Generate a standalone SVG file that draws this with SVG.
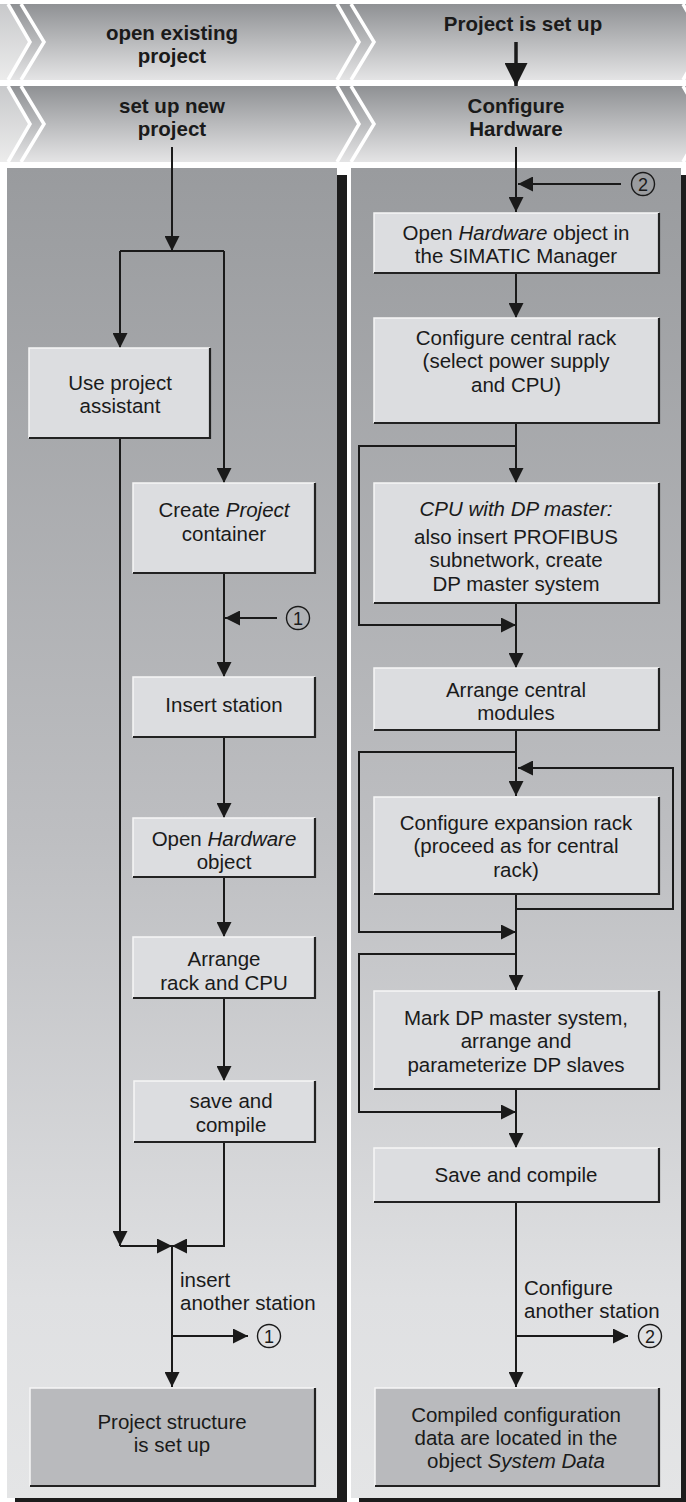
<svg xmlns="http://www.w3.org/2000/svg" width="686" height="1502" viewBox="0 0 686 1502">
<defs>
<linearGradient id="band" x1="0" y1="0" x2="0" y2="1">
<stop offset="0" stop-color="#8f9194"/>
<stop offset="1" stop-color="#e4e4e5"/>
</linearGradient>
<linearGradient id="sliver" x1="0" y1="0" x2="0" y2="1">
<stop offset="0" stop-color="#c8c9cb"/>
<stop offset="1" stop-color="#ececec"/>
</linearGradient>
<linearGradient id="panel" x1="0" y1="168" x2="0" y2="1498" gradientUnits="userSpaceOnUse">
<stop offset="0" stop-color="#999b9e"/>
<stop offset="0.5" stop-color="#bdbec1"/>
<stop offset="0.85" stop-color="#dfe0e2"/>
<stop offset="1" stop-color="#e4e5e6"/>
</linearGradient>
<marker id="ah" viewBox="0 0 15 15" refX="15" refY="7.5" markerWidth="15" markerHeight="15" markerUnits="userSpaceOnUse" orient="auto">
<path d="M0,0 L15,7.5 L0,15 z" fill="#1a1a1a"/>
</marker>
<marker id="big" viewBox="0 0 23 23" refX="23" refY="11.5" markerWidth="23" markerHeight="23" markerUnits="userSpaceOnUse" orient="auto">
<path d="M0,0 L23,11.5 L0,23 z" fill="#1a1a1a"/>
</marker>
</defs>
<style>
.hd{font-family:"Liberation Sans",Arial,sans-serif;font-weight:bold;font-size:20.5px;fill:#1a1a1a;text-anchor:middle}
.t{font-family:"Liberation Sans",Arial,sans-serif;font-size:20.5px;fill:#1a1a1a;text-anchor:middle}
.l{font-family:"Liberation Sans",Arial,sans-serif;font-size:20.5px;fill:#1a1a1a}
.n{font-family:"Liberation Sans",Arial,sans-serif;font-size:18px;fill:#1a1a1a;text-anchor:middle}
.ring{fill:none;stroke:#1a1a1a;stroke-width:1.4}
.box{fill:#dcdde0}
.fin{fill:#b9babd}
.hi{fill:none;stroke:#f6f6f6;stroke-width:1.5}
.sh{fill:none;stroke:#222;stroke-width:2.2}
.chev{fill:none;stroke:#fff;stroke-width:3.5}
.c{fill:none;stroke:#1a1a1a;stroke-width:2}
.ca{fill:none;stroke:#1a1a1a;stroke-width:2;marker-end:url(#ah)}
</style>
<rect x="0" y="0" width="686" height="1502" fill="#fff"/>

<g id="header">
<rect x="0" y="4" width="686" height="76" fill="url(#band)"/>
<rect x="0" y="86" width="686" height="76" fill="url(#band)"/>
<polygon points="0,4 8,4 30,42 8,80 0,80" fill="url(#sliver)"/>
<polygon points="0,86 8,86 30,124 8,162 0,162" fill="url(#sliver)"/>
<polyline class="chev" points="8,4 30,42 8,80"/>
<polyline class="chev" points="21,4 44,42 21,80"/>
<polyline class="chev" points="8,86 30,124 8,162"/>
<polyline class="chev" points="21,86 44,124 21,162"/>
<polyline class="chev" points="337,4 359,42 337,80"/>
<polyline class="chev" points="351,4 374,42 351,80"/>
<polyline class="chev" points="337,86 359,124 337,162"/>
<polyline class="chev" points="351,86 374,124 351,162"/>
<polyline class="chev" points="683,4 705,42 683,80"/>
<polyline class="chev" points="683,86 705,124 683,162"/>
</g>

<g id="h-open">
<text class="hd" x="172" y="40">open existing</text>
<text class="hd" x="172" y="63">project</text>
</g>
<g id="h-setup">
<text class="hd" x="172" y="113">set up new</text>
<text class="hd" x="172" y="136">project</text>
</g>
<g id="h-isset">
<text class="hd" x="523" y="31">Project is set up</text>
</g>
<g id="h-config">
<text class="hd" x="516" y="113">Configure</text>
<text class="hd" x="516" y="136">Hardware</text>
</g>

<g id="panels">
<rect x="337" y="175" width="10" height="1327" fill="#1c1c1c"/>
<rect x="15" y="1498" width="332" height="4" fill="#1c1c1c"/>
<rect x="7" y="168" width="330" height="1330" fill="url(#panel)"/>
<rect x="681" y="175" width="5" height="1327" fill="#1c1c1c"/>
<rect x="359" y="1498" width="327" height="4" fill="#1c1c1c"/>
<rect x="351" y="168" width="330" height="1330" fill="url(#panel)"/>
</g>

<g id="connectors">
<line class="c" x1="516" y1="42" x2="516" y2="86" style="stroke-width:3.5;marker-end:url(#big)"/>
<polyline class="ca" points="172,147 172,251"/>
<polyline class="c" points="120,251 224,251"/>
<polyline class="ca" points="120,251 120,348"/>
<polyline class="ca" points="224,251 224,483"/>
<polyline class="ca" points="224,573 224,677"/>
<polyline class="ca" points="277,618 225,618"/>
<polyline class="ca" points="224,737 224,818"/>
<polyline class="ca" points="224,877 224,937"/>
<polyline class="ca" points="224,998 224,1081"/>
<polyline class="ca" points="120,438 120,1246"/>
<polyline class="ca" points="120,1246 172,1246"/>
<polyline class="ca" points="224,1142 224,1246 172,1246"/>
<polyline class="ca" points="172,1246 172,1387"/>
<polyline class="ca" points="172,1336 248,1336"/>

<polyline class="ca" points="516,147 516,212"/>
<polyline class="ca" points="621,184 518,184"/>
<polyline class="ca" points="516,273 516,318"/>
<polyline class="ca" points="516,423 516,483"/>
<polyline class="ca" points="516,446 359,446 359,625 516,625"/>
<polyline class="ca" points="516,603 516,668"/>
<polyline class="ca" points="516,730 516,796"/>
<polyline class="ca" points="516,752 359,752 359,932 516,932"/>
<polyline class="ca" points="516,894 516,909 673,909 673,768 518,768"/>
<polyline class="ca" points="516,894 516,990"/>
<polyline class="ca" points="516,954 359,954 359,1112 516,1112"/>
<polyline class="ca" points="516,1089 516,1148"/>
<polyline class="ca" points="516,1202 516,1387"/>
<polyline class="ca" points="516,1336 628,1336"/>
</g>

<g id="ref1a"><circle class="ring" cx="298" cy="618" r="11.5"/><text class="n" x="298" y="624.5">1</text></g>
<g id="ref1b"><circle class="ring" cx="269" cy="1336" r="11.5"/><text class="n" x="269" y="1342.5">1</text></g>
<g id="ref2a"><circle class="ring" cx="643" cy="184" r="11.5"/><text class="n" x="643" y="190.5">2</text></g>
<g id="ref2b"><circle class="ring" cx="650" cy="1336" r="11.5"/><text class="n" x="650" y="1342.5">2</text></g>

<g id="lbl-insert">
<text class="l" x="180" y="1287">insert</text>
<text class="l" x="180" y="1310">another station</text>
</g>
<g id="lbl-configure">
<text class="l" x="524" y="1295">Configure</text>
<text class="l" x="524" y="1318">another station</text>
</g>

<g id="n-assistant">
<rect class="box" x="29" y="348" width="181" height="90"/>
<path class="hi" d="M29,438 L29,348 L210,348"/>
<path class="sh" d="M29,438 L210,438 L210,348"/>
<text class="t" x="120" y="390">Use project</text>
<text class="t" x="120" y="413">assistant</text>
</g>
<g id="n-create">
<rect class="box" x="133" y="483" width="182" height="90"/>
<path class="hi" d="M133,573 L133,483 L315,483"/>
<path class="sh" d="M133,573 L315,573 L315,483"/>
<text class="t" x="224" y="517">Create <tspan font-style="italic">Project</tspan></text>
<text class="t" x="224" y="541">container</text>
</g>
<g id="n-insert">
<rect class="box" x="133" y="677" width="182" height="60"/>
<path class="hi" d="M133,737 L133,677 L315,677"/>
<path class="sh" d="M133,737 L315,737 L315,677"/>
<text class="t" x="224" y="712">Insert station</text>
</g>
<g id="n-openhw">
<rect class="box" x="133" y="818" width="182" height="59"/>
<path class="hi" d="M133,877 L133,818 L315,818"/>
<path class="sh" d="M133,877 L315,877 L315,818"/>
<text class="t" x="224" y="846">Open <tspan font-style="italic">Hardware</tspan></text>
<text class="t" x="224" y="869">object</text>
</g>
<g id="n-arrange">
<rect class="box" x="133" y="937" width="182" height="61"/>
<path class="hi" d="M133,998 L133,937 L315,937"/>
<path class="sh" d="M133,998 L315,998 L315,937"/>
<text class="t" x="224" y="966">Arrange</text>
<text class="t" x="224" y="990">rack and CPU</text>
</g>
<g id="n-save">
<rect class="box" x="134" y="1081" width="181" height="61"/>
<path class="hi" d="M134,1142 L134,1081 L315,1081"/>
<path class="sh" d="M134,1142 L315,1142 L315,1081"/>
<text class="t" x="231" y="1108">save and</text>
<text class="t" x="231" y="1132">compile</text>
</g>
<g id="n-structure">
<rect class="fin" x="30" y="1388" width="285" height="98"/>
<path class="hi" d="M30,1486 L30,1388 L315,1388"/>
<path class="sh" d="M30,1486 L315,1486 L315,1388"/>
<text class="t" x="172" y="1429">Project structure</text>
<text class="t" x="172" y="1452">is set up</text>
</g>

<g id="n-openhw2">
<rect class="box" x="374" y="213" width="285" height="60"/>
<path class="hi" d="M374,273 L374,213 L659,213"/>
<path class="sh" d="M374,273 L659,273 L659,213"/>
<text class="t" x="516" y="240">Open <tspan font-style="italic">Hardware</tspan> object in</text>
<text class="t" x="516" y="263">the SIMATIC Manager</text>
</g>
<g id="n-central">
<rect class="box" x="374" y="318" width="285" height="105"/>
<path class="hi" d="M374,423 L374,318 L659,318"/>
<path class="sh" d="M374,423 L659,423 L659,318"/>
<text class="t" x="516" y="345">Configure central rack</text>
<text class="t" x="516" y="368">(select power supply</text>
<text class="t" x="516" y="392">and CPU)</text>
</g>
<g id="n-cpudp">
<rect class="box" x="374" y="483" width="285" height="120"/>
<path class="hi" d="M374,603 L374,483 L659,483"/>
<path class="sh" d="M374,603 L659,603 L659,483"/>
<text class="t" x="516" y="516" font-style="italic">CPU with DP master:</text>
<text class="t" x="516" y="544">also insert PROFIBUS</text>
<text class="t" x="516" y="567">subnetwork, create</text>
<text class="t" x="516" y="591">DP master system</text>
</g>
<g id="n-arrcentral">
<rect class="box" x="374" y="668" width="285" height="62"/>
<path class="hi" d="M374,730 L374,668 L659,668"/>
<path class="sh" d="M374,730 L659,730 L659,668"/>
<text class="t" x="516" y="697">Arrange central</text>
<text class="t" x="516" y="720">modules</text>
</g>
<g id="n-expansion">
<rect class="box" x="374" y="797" width="285" height="97"/>
<path class="hi" d="M374,894 L374,797 L659,797"/>
<path class="sh" d="M374,894 L659,894 L659,797"/>
<text class="t" x="516" y="830">Configure expansion rack</text>
<text class="t" x="516" y="853">(proceed as for central</text>
<text class="t" x="516" y="877">rack)</text>
</g>
<g id="n-markdp">
<rect class="box" x="374" y="991" width="285" height="98"/>
<path class="hi" d="M374,1089 L374,991 L659,991"/>
<path class="sh" d="M374,1089 L659,1089 L659,991"/>
<text class="t" x="516" y="1025">Mark DP master system,</text>
<text class="t" x="516" y="1048">arrange and</text>
<text class="t" x="516" y="1072">parameterize DP slaves</text>
</g>
<g id="n-save2">
<rect class="box" x="374" y="1148" width="285" height="54"/>
<path class="hi" d="M374,1202 L374,1148 L659,1148"/>
<path class="sh" d="M374,1202 L659,1202 L659,1148"/>
<text class="t" x="516" y="1182">Save and compile</text>
</g>
<g id="n-compiled">
<rect class="fin" x="375" y="1388" width="284" height="98"/>
<path class="hi" d="M375,1486 L375,1388 L659,1388"/>
<path class="sh" d="M375,1486 L659,1486 L659,1388"/>
<text class="t" x="516" y="1422">Compiled configuration</text>
<text class="t" x="516" y="1445">data are located in the</text>
<text class="t" x="516" y="1468">object <tspan font-style="italic">System Data</tspan></text>
</g>
</svg>
